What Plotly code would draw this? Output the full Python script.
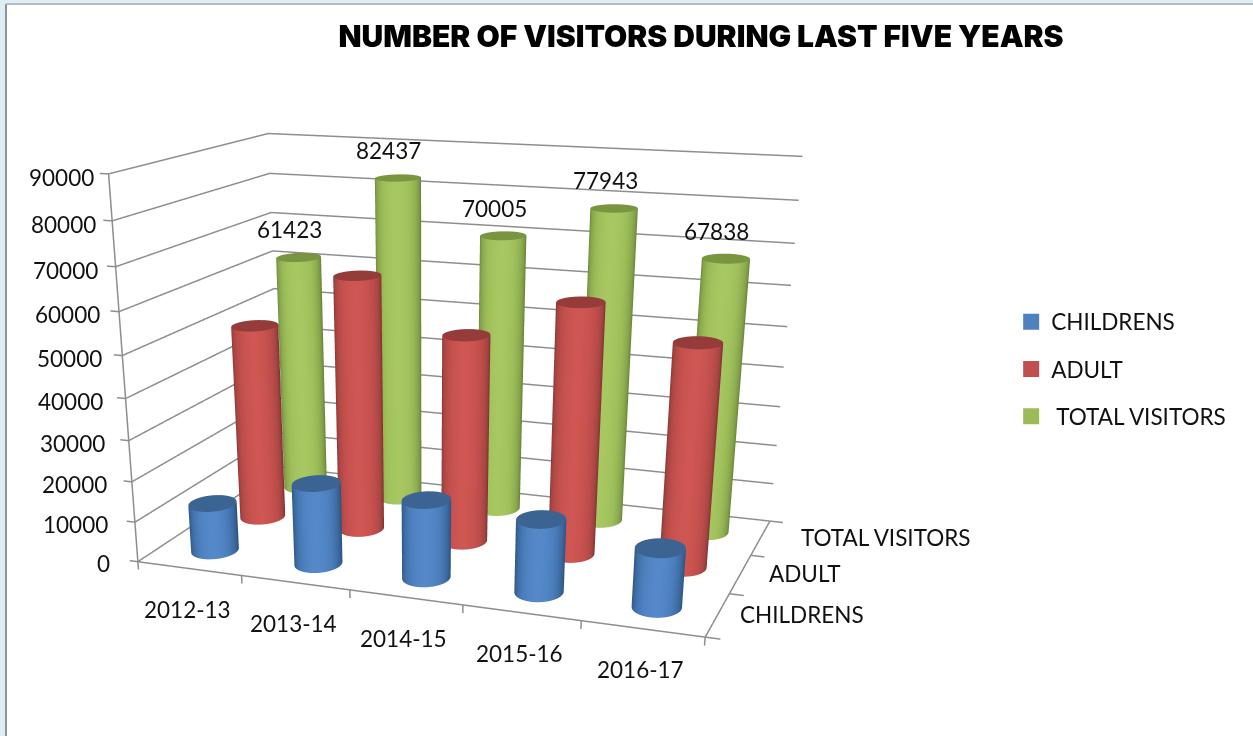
import numpy as np
import plotly.graph_objects as go

years = ["2012-13", "2013-14", "2014-15", "2015-16", "2016-17"]
series_names = ["CHILDRENS", "ADULT", "TOTAL VISITORS"]
childrens = [12000, 20000, 19000, 17500, 14000]
adult = [49423, 63400, 51300, 60943, 53800]
total = [61423, 82437, 70005, 77943, 67838]
z_ticks = [0, 10000, 20000, 30000, 40000, 50000, 60000, 70000, 80000, 90000]
values = [childrens, adult, total]

HF = 1400
W = 1253
def Y(p):
    return 1 - p / HF

# camera and box proportions
ex, ey, ez = 1.419, -4.203, 1.056
cx0, cy0, cz0 = 0.105, -0.601, -0.709
ax, ay, az = 1.533, 0.919, 1.0
px = 425.5
R = 0.062

side_scales = [
    [[0, "#264C7A"], [0.45, "#3A659A"], [0.8, "#4A7DBA"], [1, "#5488C8"]],
    [[0, "#762C2A"], [0.45, "#A54543"], [0.8, "#C24F4C"], [1, "#CE5653"]],
    [[0, "#5F7832"], [0.45, "#84A24A"], [0.8, "#9CBD59"], [1, "#A6C761"]],
]
cap_colors = ["#3C6492", "#953B39", "#7A9540"]
legend_colors = ["#4F81BD", "#C0504D", "#9BBB59"]
GRID = "#8E8E8E"

rx = R * 5 / ax
ry = 1.2 * R * 3 / ay
flat = dict(ambient=1, diffuse=0, specular=0, fresnel=0)

fig = go.Figure()
theta = np.linspace(0, 2 * np.pi, 37)

gx, gy, gz = [], [], []
def seg(xs, ys, zs):
    gx.extend(xs + [None]); gy.extend(ys + [None]); gz.extend(zs + [None])

for t in z_ticks:
    seg([-0.08, 0, 0, 5], [0, 0, 3, 3], [t, t, t, t])
seg([0, 0], [0, 0], [0, 90000])
seg([0, 5, 5], [0, 0, 3], [0, 0, 0])
for i in range(6):
    seg([i, i], [0, 0], [0, -2000])
for j in range(4):
    seg([5, 5.12], [j, j], [0, 0])
fig.add_trace(go.Scatter3d(x=gx, y=gy, z=gz, mode="lines", line=dict(color=GRID, width=3),
                           connectgaps=False, hoverinfo="skip", showlegend=False))

for j, vals in enumerate(values):
    for i, v in enumerate(vals):
        cx, cy = i + 0.5, j + 0.5
        view = np.arctan2(ey - ay * (cy / 3 - 0.5), ex - ax * (cx / 5 - 0.5))
        X = np.vstack([cx + rx * np.cos(theta)] * 2)
        Y_ = np.vstack([cy + ry * np.sin(theta)] * 2)
        Z = np.vstack([np.zeros_like(theta), np.full_like(theta, v)])
        C = np.vstack([np.cos(theta - view)] * 2)
        fig.add_trace(go.Surface(x=X, y=Y_, z=Z, surfacecolor=C, cmin=0, cmax=1,
                                 colorscale=side_scales[j], showscale=False, lighting=flat,
                                 hoverinfo="skip", showlegend=False))
        rr = np.array([0, 1.0])
        Xc = cx + rx * np.outer(rr, np.cos(theta))
        Yc = cy + ry * np.outer(rr, np.sin(theta))
        Zc = np.full_like(Xc, v)
        fig.add_trace(go.Surface(x=Xc, y=Yc, z=Zc, surfacecolor=np.zeros_like(Xc), cmin=0, cmax=1,
                                 colorscale=[[0, cap_colors[j]], [1, cap_colors[j]]], showscale=False,
                                 lighting=flat, hoverinfo="skip", showlegend=False))

for j, name in enumerate(series_names):
    fig.add_trace(go.Scatter3d(x=[0.5], y=[j + 0.5], z=[values[j][0] / 2], mode="markers",
                               name=("\u00a0" if j == 2 else "") + name, legendgroup=name,
                               marker=dict(symbol="square", size=16, color=legend_colors[j]),
                               hoverinfo="skip"))

lab = dict(family="Lato", size=22.5, color="#111")
annos = [dict(x=i + 0.5, y=2.5, z=v, text=str(v), showarrow=False, yanchor="bottom", yshift=12, xshift=-9, font=lab)
         for i, v in enumerate(total)]
annos += [dict(x=0, y=0, z=t, text=str(t), showarrow=False, xanchor="right",
               xshift=-26 + 13 * t / 90000, yshift=-(2 + 2 * t / 90000), font=lab) for t in z_ticks]
annos += [dict(x=i + 0.5, y=0, z=0, text=y, showarrow=False, yshift=-41, xshift=-2, font=lab)
          for i, y in enumerate(years)]
y_shifts = [20, 27, 38]
annos += [dict(x=5, y=j + 0.5, z=0, text=n, showarrow=False, xanchor="left", xshift=y_shifts[j], font=lab)
          for j, n in enumerate(series_names)]

def axis(**kw):
    base = dict(showgrid=False, showline=False, ticks="", showticklabels=False, zeroline=False,
                showbackground=False, showspikes=False, title=dict(text=""))
    base.update(kw)
    return base

xr = [-0.3, 5.3]
yr = [-0.15, 3.15]
zr = [-4000, 94000]
dom = [0, 2 * px / W]

fig.update_layout(
    width=W, height=HF, margin=dict(l=0, r=0, t=0, b=0),
    paper_bgcolor="white",
    title=dict(text="NUMBER OF VISITORS DURING LAST FIVE YEARS", x=0.5595, xanchor="center", y=Y(36),
               yanchor="middle", font=dict(family="Inter", size=30, color="black", weight=900)),
    legend=dict(x=0.807, y=Y(369), xanchor="left", yanchor="middle", font=lab, itemwidth=30,
                tracegroupgap=15, bgcolor="rgba(0,0,0,0)"),
    scene=dict(
        domain=dict(x=dom, y=[0, 1]),
        aspectmode="manual",
        aspectratio=dict(x=ax * (xr[1] - xr[0]) / 5, y=ay * (yr[1] - yr[0]) / 3, z=az * (zr[1] - zr[0]) / 90000),
        xaxis=axis(range=xr), yaxis=axis(range=yr), zaxis=axis(range=zr),
        camera=dict(eye=dict(x=ex, y=ey, z=ez), center=dict(x=cx0, y=cy0, z=cz0), up=dict(x=0, y=0, z=1),
                    projection=dict(type="perspective")),
        annotations=annos,
    ),
    shapes=[
        dict(type="rect", xref="paper", yref="paper", x0=-0.01, x1=0.0048, y0=0, y1=1.01,
             fillcolor="#DDEEF5", line=dict(width=0), layer="below"),
        dict(type="rect", xref="paper", yref="paper", x0=-0.01, x1=1.01, y0=Y(4), y1=1.01,
             fillcolor="#DDEEF5", line=dict(width=0), layer="below"),
        dict(type="line", xref="paper", yref="paper", x0=0.0048, x1=0.0048, y0=0, y1=Y(4),
             line=dict(color="#8C9296", width=2), layer="below"),
        dict(type="line", xref="paper", yref="paper", x0=0.0048, x1=1, y0=Y(4), y1=Y(4),
             line=dict(color="#B5BBBE", width=2), layer="below"),
    ],
)
fig.write_html("out.html", post_script="document.body.style.margin='0';document.documentElement.style.overflow='hidden';document.body.style.overflow='hidden';",
               config=dict(displayModeBar=False))
